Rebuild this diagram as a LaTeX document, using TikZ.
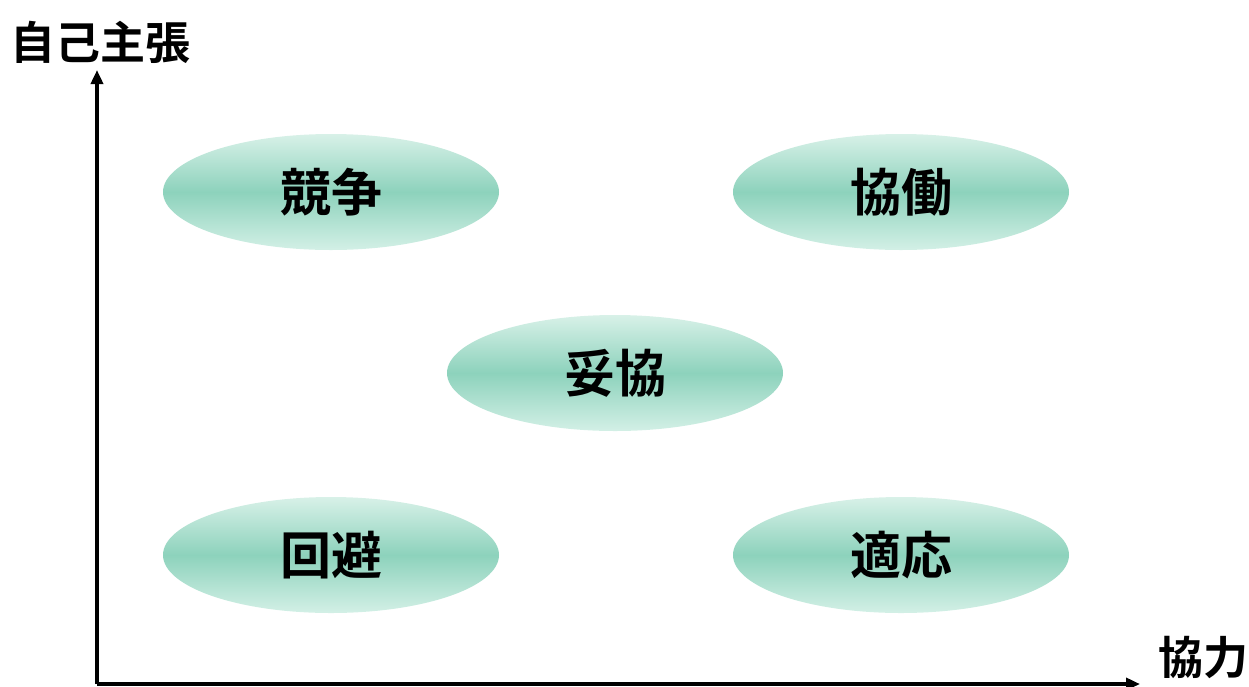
\documentclass[tikz,border=0pt]{standalone}
\usepackage{fontspec}
\newfontfamily\jp{Noto Sans CJK JP Bold}
\usetikzlibrary{shapes.geometric,arrows.meta}
\begin{document}
\begin{tikzpicture}[x=1pt,y=-1pt,
  blob/.style={ellipse, minimum width=336pt, minimum height=116pt, inner sep=0pt,
    top color=tealtop, bottom color=tealbot, middle color=tealmid, draw=none,
    font=\jp\fontsize{51}{51}\selectfont, text=black},
  axislabel/.style={font=\jp\fontsize{45}{45}\selectfont, text=black, inner sep=0pt},
  axis/.style={line width=4.5pt, -{Triangle[length=14pt,width=12pt]}}]
\definecolor{tealtop}{HTML}{D8F1E8}
\definecolor{tealmid}{HTML}{8DD2BC}
\definecolor{tealbot}{HTML}{D3F0E6}
\useasboundingbox (0,0) rectangle (1249,686);
\coordinate (origin) at (97,684);
\coordinate (ytip) at (97,70);
\coordinate (xtip) at (1140,684);
\draw[axis] (origin) -- (ytip);
\draw[axis] (origin) -- (xtip);
\node[axislabel] (ylab) at (100,42) {自己主張};
\node[axislabel] (xlab) at (1203,657) {協力};
\node[blob] (kyoso) at (331,192) {競争};
\node[blob] (kyodo) at (901,192) {協働};
\node[blob] (dakyo) at (615,373) {妥協};
\node[blob] (kaihi) at (331,555) {回避};
\node[blob] (tekio) at (901,555) {適応};
\end{tikzpicture}
\end{document}
